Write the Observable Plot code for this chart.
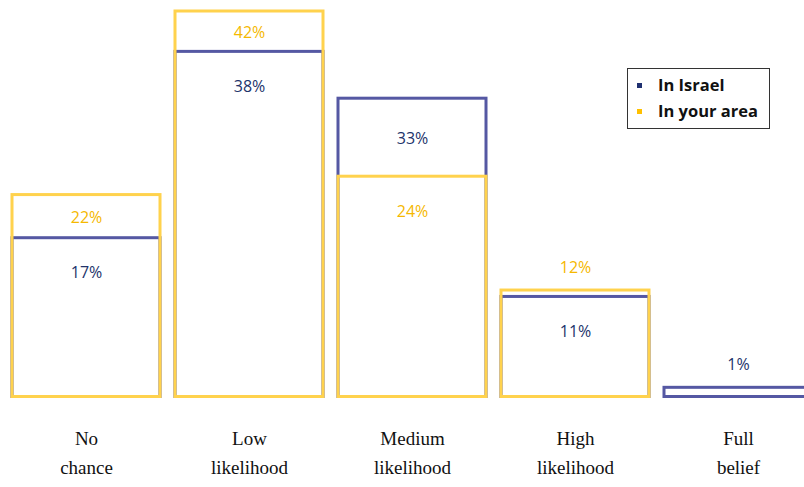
<!DOCTYPE html>
<html><head><meta charset="utf-8">
<script src="https://cdn.jsdelivr.net/npm/d3@7"></script>
<script src="https://cdn.jsdelivr.net/npm/@observablehq/plot@0.6"></script>
<style>
body{margin:0;background:#fff;}
#wrap{position:relative;width:804px;height:487px;overflow:hidden;}
#legend{position:absolute;left:627px;top:68px;width:141px;height:59px;border:1.5px solid #333;background:#fff;font-family:"Open Sans",sans-serif;font-weight:700;font-size:16.5px;color:#111;}
#legend .row{position:absolute;left:9px;display:flex;align-items:center;line-height:20px;}
#legend .sw{width:5px;height:5px;margin-right:16px;}
</style></head>
<body><div id="wrap"><div id="legend">
<div class="row" style="top:6px"><span class="sw" style="background:#1f3070"></span>In Israel</div>
<div class="row" style="top:32px"><span class="sw" style="background:#ffc000"></span>In your area</div>
</div></div>
<script>
const categories = ["No chance","Low likelihood","Medium likelihood","High likelihood","Full belief"];
const inIsrael = [17.3, 37.6, 32.5, 10.9, 1.0];
const inYourArea = [22.0, 42.0, 24.0, 11.6, 0];

const rows = categories.map((c,i)=>({cat:c, israel:inIsrael[i], area:inYourArea[i]}));
const areaBars = rows.filter(d=>d.area>0);
// label placement groups
const midLabels = [], aboveLabels = [], belowLabels = [];
rows.forEach(d=>{
  const hi = Math.max(d.israel,d.area), lo = Math.min(d.israel,d.area);
  const hiSer = d.israel>=d.area ? "israel":"area";
  const loSer = hiSer==="israel" ? "area":"israel";
  if (d.area===0) { aboveLabels.push({cat:d.cat, y:d.israel, s:"israel", v:d.israel}); return; }
  if (hi-lo>2) midLabels.push({cat:d.cat, y:(hi+lo)/2, s:hiSer, v:hi});
  else aboveLabels.push({cat:d.cat, y:hi, s:hiSer, v:hi});
  belowLabels.push({cat:d.cat, y:lo, s:loSer, v:lo});
});
const textColor = {israel:"#22336b", area:"#f5b800"};
const first = categories.map(c=>({cat:c, t:c.slice(0,c.indexOf(" "))}));
const second = categories.map(c=>({cat:c, t:c.slice(c.indexOf(" ")+1)}));
const lab = {x:"cat", y:"y", text:d=>Math.round(d.v)+"%", fill:d=>textColor[d.s], fontSize:16, fontFamily:"Open Sans, sans-serif"};

const chart = Plot.plot({
  width:804, height:487,
  marginTop:0, marginBottom:0, marginLeft:0, marginRight:0,
  x:{domain:categories, range:[11,813], paddingInner:0.095, paddingOuter:0, axis:null},
  y:{domain:[0,42], range:[396.5,11], axis:null},
  marks:[
    Plot.barY(rows,{x:"cat", y1:0, y2:"israel", fill:"none", stroke:"#5558a3", strokeWidth:3}),
    Plot.barY(areaBars,{x:"cat", y1:0, y2:"area", fill:"none", stroke:"#ffd24d", strokeWidth:3}),
    Plot.text(midLabels,{...lab, dy:1}),
    Plot.text(aboveLabels,{...lab, dy:-23}),
    Plot.text(belowLabels,{...lab, dy:35}),
    Plot.text(first,{x:"cat", y:0, dy:42, text:"t", fontSize:19, fontFamily:"Liberation Serif, serif", fill:"#111"}),
    Plot.text(second,{x:"cat", y:0, dy:71, text:"t", fontSize:19, fontFamily:"Liberation Serif, serif", fill:"#111"})
  ]
});
document.getElementById("wrap").prepend(chart);
</script></body></html>
